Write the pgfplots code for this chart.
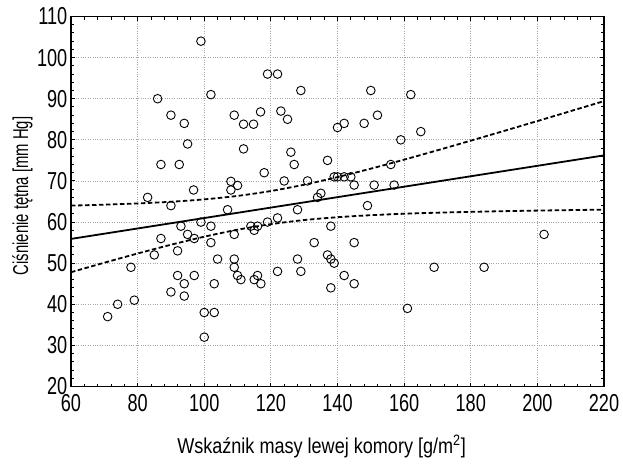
\documentclass[border=0pt]{standalone}
\usepackage{fontspec}
\setmainfont{Liberation Sans}[FakeStretch=0.76]
\newfontfamily\tickfont{Liberation Sans}[FakeStretch=0.74]
\newfontfamily\xlabfont{Liberation Sans}[FakeStretch=0.84]
\newfontfamily\ylabfont{Liberation Sans}[FakeStretch=0.69]
\usepackage{pgfplots}
\pgfplotsset{compat=1.18}
\begin{document}
\begin{tikzpicture}
\useasboundingbox (-71pt,-82pt) rectangle (552pt,386.5pt);
\begin{axis}[
  scale only axis,
  width=533pt, height=370pt,
  xmin=60, xmax=220, ymin=20, ymax=110,
  xtick={60,80,...,220}, ytick={20,30,...,110},
  minor tick num=4,
  tick align=inside,
  major tick length=4pt, minor tick length=3pt,
  tick style={black, line width=0.9pt},
  axis line style={black, line width=1.3pt},
  grid=major,
  major grid style={gray!70, dotted, line width=0.8pt},
  /pgf/number format/assume math mode=true,
  ticklabel style={font=\tickfont\fontsize{24.5}{26}\selectfont, inner sep=0.5pt},
  xticklabel style={yshift=-7pt},
  yticklabel style={xshift=-3pt},
  xlabel={Wskaźnik masy lewej komory [g/m\textsuperscript{2}]},
  ylabel={Ciśnienie tętna [mm Hg]},
  xlabel style={font=\xlabfont\fontsize{21.5}{23}\selectfont, at={(axis description cs:0.47,0)}, anchor=center, yshift=-60pt},
  ylabel style={font=\ylabfont\fontsize{21.5}{23}\selectfont, at={(axis description cs:-0.091,0.515)}, anchor=center},
  clip=true,
]
\addplot[only marks, mark=o, mark size=4.3pt, mark options={line width=0.9pt, black}] coordinates {
(99,104)(86,90)(102,91)(90,86)(94,84)(95,79)(87,74)(92.5,74)(109,86)(111.8,83.8)(114.8,83.8)(116.9,86.8)(111.8,77.8)(108,69.9)(110,68.9)(108,67.8)(96.8,67.8)(83,66)
(119,96)(122,96)(129,92)(150,92)(162,91)(123,87)(125,85)(140,83)(142,84)(148,84)(152,86)(165,82)(159,80)(126,77)(127,74)(118,72)(137,75)(156,74)(124,70)(131,70)(139,71)(140,71)(142,71)(144,71)(145,69)(151,69)(157,69)(135,67)(134,66)
(90,64)(107,63)(99,60)(102,59)(93,59)(95,57)(97,56)(87,56)(109,57)(102,55)(85,52)(92,53)(104,51)(109,51)(109,49)(110,47)(111,46)(115,46)(114,59)(115,58)(116,59)(116,47)(117,45)(78,49)(92,47)(97,47)(94,45)(103,45)(90,43)(94,42)(74,40)(79,41)(71,37)(100,38)(103,38)(100,32)
(149,64)(128,63)(122,61)(119,60)(138,59)(133,55)(145,55)(137,52)(138,51)(139,50)(128,51)(122,48)(129,48)(142,47)(145,45)(138,44)(161,39)(169,49)(184,49)(202,57)
};
\addplot[black, line width=1.8pt] coordinates {(60,55.9)(220,76.22)};
\addplot[black, line width=1.8pt, dash pattern=on 4.5pt off 2.5pt, smooth] coordinates {
(60,64.00)(70,64.23)(80,64.53)(90,64.94)(100,65.52)(110,66.36)(120,67.55)(130,69.09)(140,70.94)(150,72.99)(160,75.18)(170,77.46)(180,79.80)(190,82.17)(200,84.57)(210,86.99)(220,89.42)};
\addplot[black, line width=1.8pt, dash pattern=on 4.5pt off 2.5pt, smooth] coordinates {
(60,47.80)(70,50.11)(80,52.35)(90,54.48)(100,56.44)(110,58.14)(120,59.49)(130,60.49)(140,61.18)(150,61.67)(160,62.02)(170,62.28)(180,62.48)(190,62.65)(200,62.79)(210,62.91)(220,63.02)};
\end{axis}
\end{tikzpicture}
\end{document}
